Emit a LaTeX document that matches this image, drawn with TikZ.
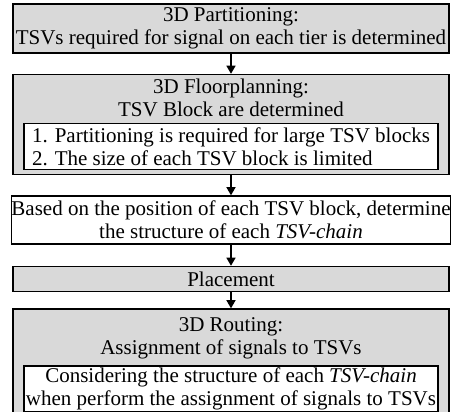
\documentclass[tikz,border=0pt]{standalone}
\usepackage{fontspec}
\setmainfont{Liberation Serif}
\usetikzlibrary{arrows.meta,positioning}
\definecolor{ink}{HTML}{000000}
\definecolor{stagegray}{HTML}{D9D9D9}
\newcommand{\flowfont}{\fontsize{21}{23}\selectfont}
\tikzset{
  stage/.style={draw=ink,line width=1.5pt,fill=stagegray,align=center,font=\flowfont,inner sep=0pt,minimum width=436pt},
  plainstage/.style={stage,fill=white},
  heading/.style={align=center,font=\flowfont,inner sep=0pt},
  note/.style={draw=ink,line width=1.5pt,fill=white,font=\flowfont,inner xsep=2pt,inner ysep=0pt,minimum width=414pt,minimum height=46pt},
  flow/.style={-{Triangle[length=8pt,width=9pt]},line width=1.2pt,draw=ink}
}
\begin{document}
\begin{tikzpicture}
  \useasboundingbox (0,0) rectangle (451pt,-412pt);
  \node[stage, minimum height=49pt] (part) at (231pt,-28.5pt) {3D Partitioning:\\TSVs required for signal on each tier is determined};
  % floorplanning with its constraints
  \node[stage, minimum height=100pt, below=20pt of part] (fp) {};
  \node[heading, below=5pt of fp.north] (fptitle) {3D Floorplanning:\\TSV Block are determined};
  \node[note, align=left, above=5pt of fp.south] (fpnote) {1. Partitioning is required for large TSV blocks\\2. The size of each TSV block is limited};
  \node[plainstage, minimum height=48pt, below=20pt of fp] (chain) {Based on the position of each TSV block, determine\\the structure of each \textit{TSV-chain}};
  \node[stage, minimum height=25pt, below=21pt of chain] (place) {Placement};
  % routing with the chain-aware assignment
  \node[stage, minimum height=108pt, below=16pt of place] (route) {};
  \node[heading, below=9pt of route.north] (routetitle) {3D Routing:\\Assignment of signals to TSVs};
  \node[note, align=center, above=5pt of route.south] (routenote) {Considering the structure of each \textit{TSV-chain}\\when perform the assignment of signals to TSVs};
  \draw[flow] (part) -- (fp); \draw[flow] (fp) -- (chain);
  \draw[flow] (chain) -- (place); \draw[flow] (place) -- (route);
\end{tikzpicture}
\end{document}
